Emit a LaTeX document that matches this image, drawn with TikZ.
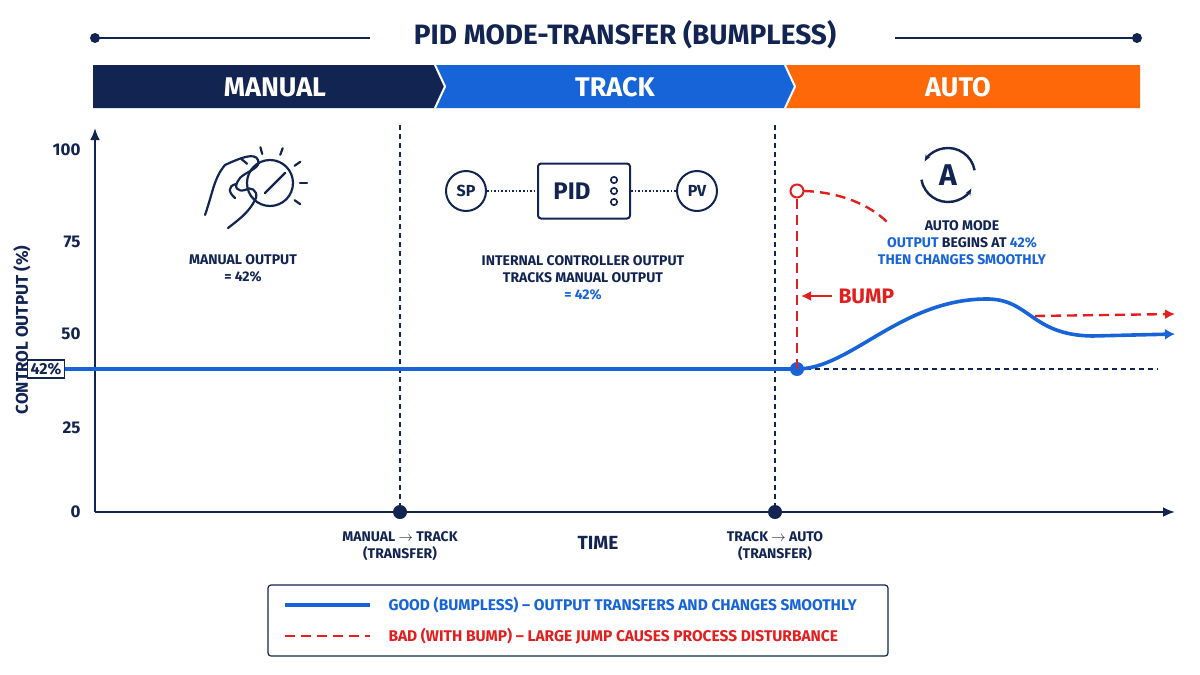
\documentclass[tikz,border=0pt]{standalone}
\usepackage{fontspec}
\setmainfont{Fira Sans}
\usetikzlibrary{arrows.meta,positioning}
\definecolor{pidnavy}{RGB}{18,36,82}
\definecolor{pidblue}{RGB}{22,100,216}
\definecolor{pidorange}{RGB}{255,104,8}
\definecolor{pidred}{RGB}{226,30,30}
\tikzset{
  lbl/.style={font=\bfseries\fontsize{14}{17}\selectfont, text=pidnavy, align=center},
  vguide/.style={pidnavy, dash pattern=on 5pt off 4pt, line width=1.1pt},
  good/.style={pidblue, line width=3.6pt},
  bad/.style={pidred, line width=2.4pt, dash pattern=on 10pt off 6pt},
}
\begin{document}
\begin{tikzpicture}[x=1pt, y=-1pt, font=\bfseries]
\useasboundingbox (0,0) rectangle (1200,675);

% Title
\node[text=pidnavy, font=\bfseries\fontsize{28}{32}\selectfont] (title) at (625,35) {PID MODE-TRANSFER (BUMPLESS)};
\coordinate (tl) at (95,38);
\coordinate (tr) at (1137,38);
\fill[pidnavy] (tl) circle (5);
\fill[pidnavy] (tr) circle (5);
\draw[pidnavy, line width=2pt] (tl) -- (370,38);
\draw[pidnavy, line width=2pt] (895,38) -- (tr);

% Mode banner
\fill[pidorange] (785,65) -- (1140,65) -- (1140,108) -- (785,108) -- (795,86.5) -- cycle;
\fill[pidblue] (435,65) -- (785,65) -- (795,86.5) -- (785,108) -- (435,108) -- (445,86.5) -- cycle;
\fill[pidnavy] (93,65) -- (435,65) -- (445,86.5) -- (435,108) -- (93,108) -- cycle;
\draw[white, line width=2pt] (435,65) -- (445,86.5) -- (435,108) (785,65) -- (795,86.5) -- (785,108);
\node[white, font=\bfseries\fontsize{27}{30}\selectfont] (manual) at (275,87) {MANUAL};
\node[white, font=\bfseries\fontsize{27}{30}\selectfont] (track) at (615,87) {TRACK};
\node[white, font=\bfseries\fontsize{27}{30}\selectfont] (auto) at (958,87) {AUTO};

% Axes
\draw[pidnavy, line width=2.6pt, -{Latex[length=12pt,width=10pt]}] (95,512) -- (95,128);
\draw[pidnavy, line width=2.6pt, -{Latex[length=12pt,width=10pt]}] (95,512) -- (1175,512);
\foreach \v/\y in {0/512,25/428,50/334,75/242,100/150}
  \node[text=pidnavy, anchor=east, font=\bfseries\fontsize{17}{20}\selectfont] at (84,\y) {\v};
\node[text=pidnavy, rotate=90, font=\bfseries\fontsize{17}{20}\selectfont] (ylab) at (22,330) {CONTROL OUTPUT (\%)};
\node[text=pidnavy, font=\bfseries\fontsize{19}{22}\selectfont] (xlab) at (598,543) {TIME};

% Transfer instants
\coordinate (mt) at (400,512);
\coordinate (ta) at (775,512);
\draw[vguide] (400,125) -- (mt);
\draw[vguide] (775,125) -- (ta);
\fill[pidnavy] (mt) circle (7);
\fill[pidnavy] (ta) circle (7);
\node[lbl, below=16pt of mt] {MANUAL $\rightarrow$ TRACK\\(TRANSFER)};
\node[lbl, below=16pt of ta] {TRACK $\rightarrow$ AUTO\\(TRANSFER)};

% Output level
\node[draw=pidnavy, line width=1.4pt, fill=white, text=pidnavy, inner sep=3pt, font=\bfseries\fontsize{16}{19}\selectfont] (lvl) at (46,369) {42\%};
\coordinate (sw) at (797,369);
\draw[vguide] (sw) -- (1158,369);
\draw[good] (lvl.east) -- (sw);
\draw[good, -{Latex[length=10pt,width=11pt]}] (sw) .. controls (850,369) and (900,300) .. (985,299)
  .. controls (1030,298) and (1030,335) .. (1092,336) -- (1175,334);
\fill[pidblue] (sw) circle (7);

% Bump
\coordinate (peak) at (797,191);
\draw[bad] (sw) -- (797,198);
\draw[pidred, line width=2pt, fill=white] (peak) circle (6.5);
\draw[bad] (804,191) .. controls (840,192) and (870,205) .. (887,222);
\draw[bad, -{Latex[length=10pt,width=10pt]}] (1035,316) -- (1175,314);
\draw[pidred, line width=2.6pt, -{Latex[length=10pt,width=10pt]}] (832,296) -- (801,296);
\node[text=pidred, anchor=west, font=\bfseries\fontsize{21}{24}\selectfont] (bump) at (835,296) {BUMP};

% Manual icon
\begin{scope}[pidnavy, line width=2.2pt, line cap=round]
  \draw (270,183) circle (23);
  \draw (265,193) -- (285,173);
  \foreach \a in {0,35,70,105,140,-35}
    \draw ({270+30*cos(\a)},{183-30*sin(\a)}) -- ({270+37*cos(\a)},{183-37*sin(\a)});
  \draw (205,215) .. controls (213,192) and (214,178) .. (225,165) .. controls (240,158) and (255,152) .. (258,160)
        .. controls (262,168) and (245,172) .. (240,178) .. controls (232,188) and (238,192) .. (245,190);
  \draw (235,198) .. controls (228,192) and (228,186) .. (236,184);
  \draw (228,228) .. controls (245,215) and (250,210) .. (256,198) .. controls (258,190) and (250,186) .. (245,190);
\end{scope}
\node[lbl] (mtext) at (243,268) {MANUAL OUTPUT\\= 42\%};

% Track icon
\node[draw=pidnavy, line width=2pt, circle, minimum size=40pt, inner sep=0pt, text=pidnavy, font=\bfseries\fontsize{16}{18}\selectfont] (sp) at (466,191) {SP};
\node[draw=pidnavy, line width=2pt, rounded corners=3pt, minimum width=92pt, minimum height=55pt] (pid) at (584,191) {};
\node[text=pidnavy, font=\bfseries\fontsize{24}{26}\selectfont] at (572,191) {PID};
\node[draw=pidnavy, line width=2pt, circle, minimum size=40pt, inner sep=0pt, text=pidnavy, font=\bfseries\fontsize{16}{18}\selectfont] (pv) at (697,191) {PV};
\foreach \y in {180,191,202}
  \draw[pidnavy, line width=1.6pt] (614,\y) circle (3.2);
\draw[pidnavy, line width=1.6pt, dotted] (sp) -- (pid);
\draw[pidnavy, line width=1.6pt, dotted] (pid) -- (pv);
\node[lbl] (ttext) at (583,278) {INTERNAL CONTROLLER OUTPUT\\TRACKS MANUAL OUTPUT\\\textcolor{pidblue}{= 42\%}};

% Auto icon
\node[text=pidnavy, font=\bfseries\fontsize{30}{32}\selectfont] (aicon) at (948,175) {A};
\draw[pidnavy, line width=2.4pt, -{Stealth[length=7pt]}] (948,175) ++(170:27) arc (170:30:27);
\draw[pidnavy, line width=2.4pt, -{Stealth[length=7pt]}] (948,175) ++(-10:27) arc (-10:-150:27);
\node[lbl] (atext) at (962,243) {AUTO MODE\\\textcolor{pidblue}{OUTPUT} BEGINS AT \textcolor{pidblue}{42\%}\\\textcolor{pidblue}{THEN CHANGES SMOOTHLY}};

% Legend
\draw[pidnavy, line width=1.2pt, rounded corners=3pt] (268,585) rectangle (888,656);
\draw[good] (285,605) -- (370,605);
\draw[bad, line width=2.8pt] (285,636) -- (370,636);
\node[anchor=west, text=pidblue, font=\bfseries\fontsize{15.5}{18}\selectfont] (lgood) at (385,605) {GOOD (BUMPLESS) -- OUTPUT TRANSFERS AND CHANGES SMOOTHLY};
\node[anchor=west, text=pidred, font=\bfseries\fontsize{15.5}{18}\selectfont] (lbad) at (385,636) {BAD (WITH BUMP) -- LARGE JUMP CAUSES PROCESS DISTURBANCE};
\end{tikzpicture}
\end{document}
